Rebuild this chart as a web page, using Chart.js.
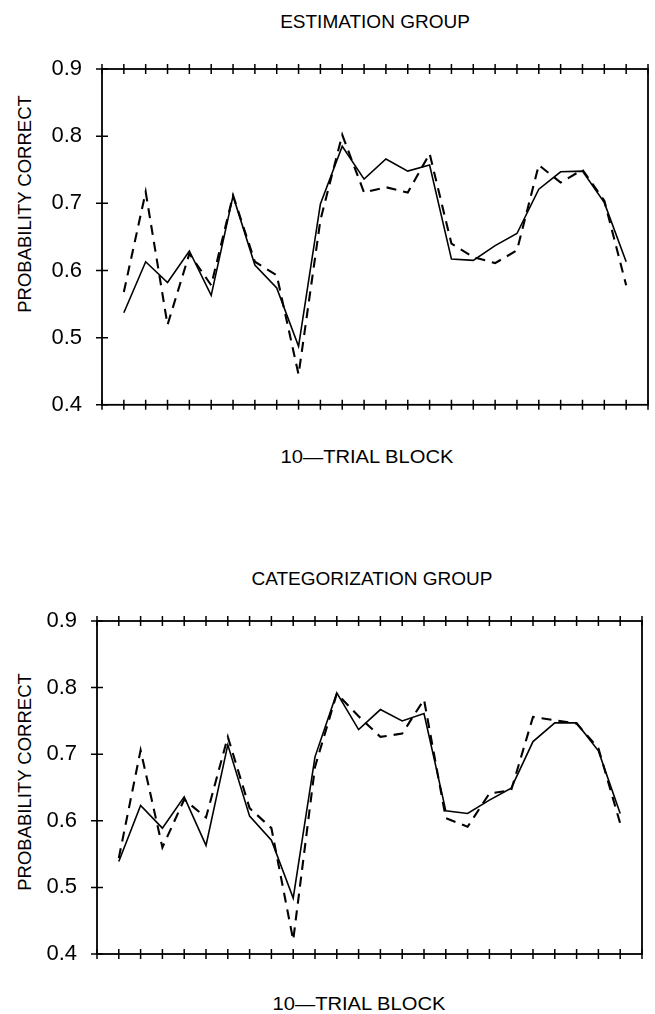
<!DOCTYPE html>
<html>
<head>
<meta charset="utf-8">
<script src="https://cdn.jsdelivr.net/npm/chart.js@4/dist/chart.umd.min.js"></script>
<style>
  html, body { margin: 0; padding: 0; background: #fff; }
  #page { position: relative; width: 655px; height: 1014px; overflow: hidden; font-family: "Liberation Sans", Arial, sans-serif; color: #000; }
  canvas { position: absolute; left: 0; }
  .lbl { position: absolute; white-space: nowrap; line-height: 1; transform: translate(-50%, -50%); }
  .ylbl { position: absolute; white-space: nowrap; line-height: 1; transform: translate(-50%, -50%) rotate(-90deg); font-size: 18.5px; }
</style>
</head>
<body>
<div id="page">
  <div class="lbl" style="left:375px; top:21px; font-size:19px;">ESTIMATION GROUP</div>
  <div class="ylbl" style="left:25px; top:204px;">PROBABILITY CORRECT</div>
  <canvas id="chartEst" width="655" height="430" style="top:0px"></canvas>
  <div class="lbl" style="left:367px; top:457px; font-size:18px; transform:translate(-50%,-50%) scaleX(1.12);">10—TRIAL BLOCK</div>

  <div class="lbl" style="left:372px; top:578px; font-size:19px;">CATEGORIZATION GROUP</div>
  <div class="ylbl" style="left:25px; top:782px;">PROBABILITY CORRECT</div>
  <canvas id="chartCat" width="655" height="440" style="top:540px"></canvas>
  <div class="lbl" style="left:359px; top:1004px; font-size:18px; transform:translate(-50%,-50%) scaleX(1.12);">10—TRIAL BLOCK</div>
</div>

<script>
'use strict'

// 10-trial blocks
const blocks = [1, 2, 3, 4, 5, 6, 7, 8, 9, 10, 11, 12, 13, 14, 15, 16, 17, 18, 19, 20, 21, 22, 23, 24];
const yTicks = [0.4, 0.5, 0.6, 0.7, 0.8, 0.9];

// estimation group
const estSolid = [0.537, 0.613, 0.582, 0.629, 0.563, 0.711, 0.608, 0.574, 0.487, 0.699, 0.785, 0.736,
  0.766, 0.748, 0.757, 0.617, 0.615, 0.637, 0.655, 0.721, 0.747, 0.748, 0.701, 0.613];
const estDashed = [0.568, 0.717, 0.519, 0.625, 0.578, 0.712, 0.613, 0.593, 0.445, 0.675, 0.802, 0.716,
  0.724, 0.716, 0.774, 0.640, 0.620, 0.611, 0.630, 0.757, 0.731, 0.750, 0.704, 0.578];

// categorization group
const catSolid = [0.539, 0.623, 0.589, 0.636, 0.563, 0.714, 0.607, 0.571, 0.484, 0.696, 0.792, 0.737,
  0.767, 0.750, 0.761, 0.615, 0.611, 0.631, 0.649, 0.719, 0.747, 0.747, 0.705, 0.611];
const catDashed = [0.544, 0.706, 0.560, 0.632, 0.605, 0.726, 0.619, 0.589, 0.421, 0.681, 0.791, 0.757,
  0.726, 0.731, 0.782, 0.604, 0.591, 0.641, 0.646, 0.756, 0.751, 0.746, 0.709, 0.596];

function toPoints(values) {
  return blocks.map(function (b, i) { return { x: b, y: values[i] }; });
}

// frame with ticks crossing the top, bottom and left axes
const framePlugin = {
  id: 'frame',
  afterDatasetsDraw(chart) {
    const ctx = chart.ctx;
    const a = chart.chartArea;
    const xs = chart.scales.x;
    const ys = chart.scales.y;
    ctx.save();
    ctx.strokeStyle = '#000';
    ctx.lineWidth = 1.8;
    ctx.strokeRect(a.left, a.top, a.right - a.left, a.bottom - a.top);
    ctx.lineWidth = 1.5;
    ctx.beginPath();
    for (let i = 0; i <= 25; i++) {
      const px = xs.getPixelForValue(i);
      ctx.moveTo(px, a.top - 5);
      ctx.lineTo(px, a.top + 5);
      ctx.moveTo(px, a.bottom - 5);
      ctx.lineTo(px, a.bottom + 5);
    }
    yTicks.forEach(function (v) {
      const py = ys.getPixelForValue(v);
      ctx.moveTo(a.left - 6, py);
      ctx.lineTo(a.left + 6, py);
    });
    ctx.stroke();
    ctx.restore();
  }
};

function makeChart(id, solid, dashed, axisWidth, pad) {
  const ctx = document.getElementById(id).getContext('2d');
  return new Chart(ctx, {
    type: 'line',
    data: {
      datasets: [{
        data: toPoints(solid),
        borderColor: '#000',
        borderWidth: 1.6,
        pointRadius: 0,
        tension: 0,
        fill: false
      },
      {
        data: toPoints(dashed),
        borderColor: '#000',
        borderWidth: 2.1,
        borderDash: [10, 7],
        pointRadius: 0,
        tension: 0,
        fill: false
      }]
    },
    options: {
      responsive: false,
      animation: false,
      layout: { padding: pad },
      plugins: { legend: { display: false }, tooltip: { enabled: false } },
      scales: {
        x: {
          type: 'linear',
          display: false,
          min: 0,
          max: 25
        },
        y: {
          min: 0.4,
          max: 0.9,
          grid: { display: false },
          border: { display: false },
          afterFit: function (scale) { scale.width = axisWidth; },
          afterBuildTicks: function (scale) {
            scale.ticks = yTicks.map(function (v) { return { value: v }; });
          },
          ticks: {
            color: '#000',
            padding: 12,
            font: { family: '"Liberation Sans", Arial, sans-serif', size: 22 },
            callback: function (v) { return v.toFixed(1); }
          }
        }
      }
    },
    plugins: [framePlugin]
  });
}

makeChart('chartEst', estSolid, estDashed, 102, { left: 0, right: 7, top: 69, bottom: 23 });
makeChart('chartCat', catSolid, catDashed, 97, { left: 0, right: 13, top: 81, bottom: 26 });
</script>
</body>
</html>
